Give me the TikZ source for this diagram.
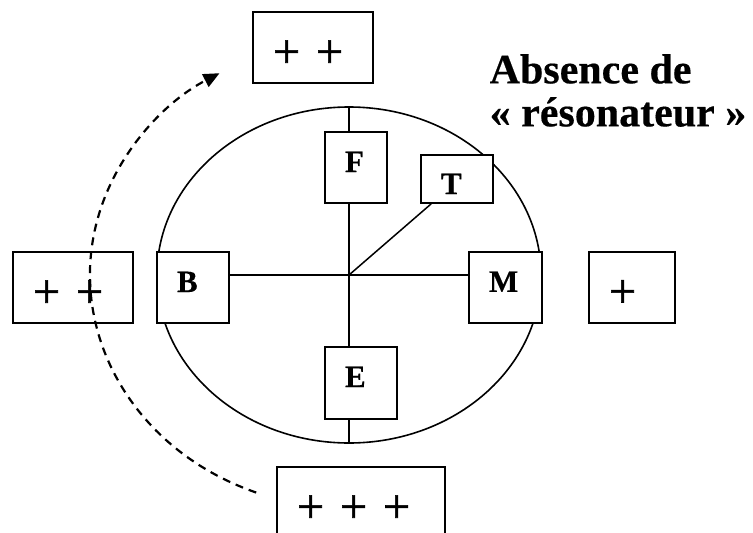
\documentclass[tikz,border=0pt]{standalone}
\usepackage{fontspec}
\setmainfont{Liberation Serif}
\newfontfamily\heavyserif[FakeBold=1.2]{Liberation Serif}
\newfontfamily\boldserif[FakeBold=0.4]{Liberation Serif Bold}
\usetikzlibrary{arrows.meta,shapes.geometric}

\begin{document}
\begin{tikzpicture}[x=1pt, y=-1pt,
  cellshape/.style={draw, ellipse, line width=1.6pt, inner sep=0pt, minimum width=384pt, minimum height=336pt},
  organ/.style={draw, fill=white, line width=1.9pt, inner xsep=20pt, inner ysep=0pt, align=left,
    text height=40pt, text depth=31pt, font=\boldserif\fontsize{31}{31}\selectfont},
  charge/.style={draw, fill=white, line width=1.9pt, inner xsep=20pt, inner ysep=0pt, align=left,
    text height=55.5pt, text depth=15.5pt, font=\heavyserif\fontsize{48}{48}\selectfont},
  wire/.style={line width=1.5pt},
  rotarrow/.style={line width=2.2pt, dash pattern=on 8pt off 6pt, -{Triangle[length=16pt,width=14pt]}},
  hdg/.style={anchor=north west, inner sep=0pt, align=left, font=\boldserif\fontsize{42}{43}\selectfont}]
\clip (0,0) rectangle (753,533);
\node[cellshape] (cell) at (349,275) {};
% the five boxes on the cell
\node[organ, text width=32pt] (B) at (193,287.5) {B};
\node[organ, text width=22pt] (F) at (356,167.5) {F};
\node[organ, text width=32pt, text depth=32pt] (E) at (361,383) {E};
\node[organ, text width=33pt] (M) at (505.5,287.3) {M};
\node[organ, text width=32pt, text height=39pt, text depth=9pt] (T) at (457,179) {T};
\draw[wire] (cell.north) -- (cell.north |- F.north);
\draw[wire] (cell.north |- F.south) -- (cell.north |- E.north);
\draw[wire] (cell.north |- E.south) -- (cell.south);
\draw[wire] (B.east |- cell.center) -- (M.west |- cell.center);
\draw[wire] (cell.center) -- ([xshift=11pt]T.south west);
% charges around it
\node[charge, text width=80pt] (pptop) at (313,47.5) {+ +};
\node[charge, text width=80pt] (ppleft) at (73,287.5) {+ +};
\node[charge, text width=46pt] (pright) at (632,287.3) {+};
\node[charge, text width=128pt] (pppbottom) at (361,502.5) {+ + +};
\node[hdg] (title) at (489.5,54) {Absence de\\«~résonateur~»};
\coordinate (arcstart) at ([shift={(111:259 and 233)}]cell.center);
\draw[rotarrow] (arcstart) arc[start angle=111, end angle=240, x radius=259, y radius=233];
\end{tikzpicture}
\end{document}
